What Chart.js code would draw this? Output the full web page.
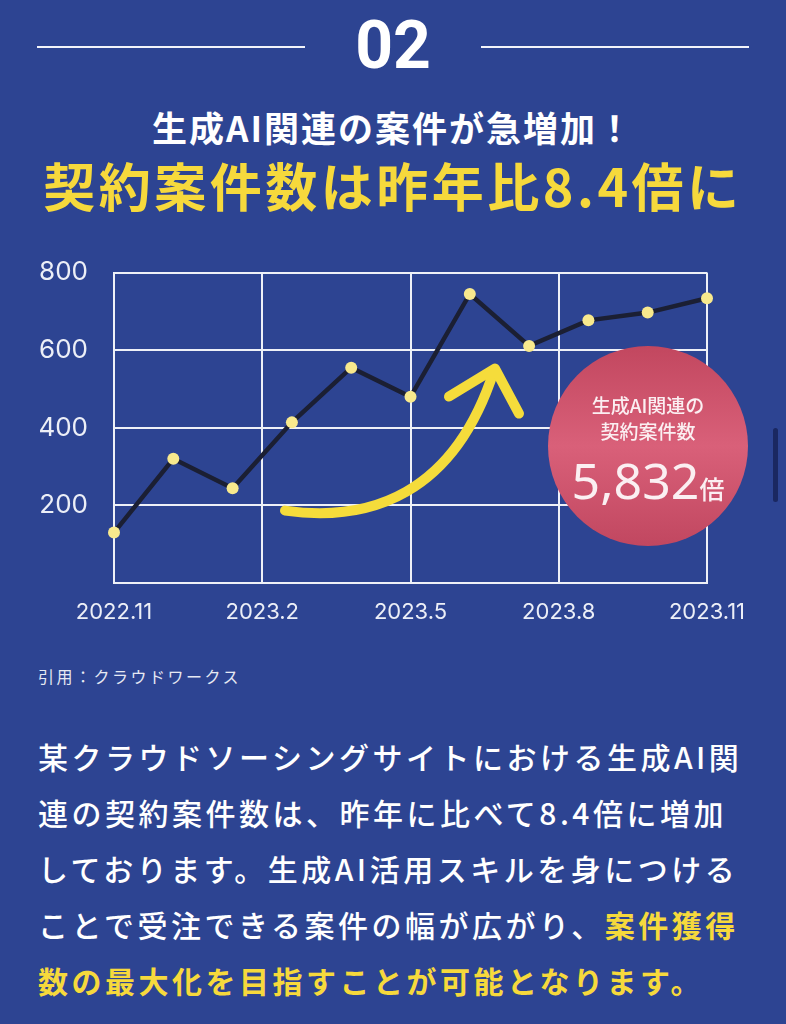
<!DOCTYPE html>
<html lang="ja">
<head>
<meta charset="utf-8">
<title>契約案件数は昨年比8.4倍に</title>
<script src="https://cdn.jsdelivr.net/npm/chart.js@4/dist/chart.umd.min.js"></script>
<style>
  html, body { margin: 0; padding: 0; }
  body {
    width: 786px; height: 1024px; overflow: hidden; position: relative;
    background: #2d4492; color: #fff;
    font-family: "Noto Sans CJK JP", "Noto Sans", sans-serif;
  }
  .rule { position: absolute; top: 46px; height: 2px; background: #f2f4fa; }
  #num {
    position: absolute; left: 0; width: 786px; top: 6px; text-align: center;
    font-family: Roboto, sans-serif; font-weight: 700; font-size: 66px; line-height: 80px;
  }
  #sub {
    position: absolute; left: 0; width: 786px; top: 104px; text-align: center;
    font-weight: 700; font-size: 35px; line-height: 46px; letter-spacing: 2px;
  }
  #main {
    position: absolute; left: 0; width: 786px; top: 150px; text-align: center;
    font-weight: 700; font-size: 52px; line-height: 70px; color: #f6d93c; letter-spacing: 3.5px;
  }
  #chartBox { position: absolute; left: 0; top: 231px; width: 786px; height: 409px; }
  #badge {
    position: absolute; left: 548px; top: 346px; width: 200px; height: 200px; border-radius: 50%;
    background: linear-gradient(180deg, #c2475f 0%, #d96079 50%, #c14760 100%);
    text-align: center; color: #fbeff2;
  }
  #badge .t { position: absolute; left: 0; width: 200px; top: 46px; font-weight: 500; font-size: 19px; line-height: 26px; }
  #badge .n { position: absolute; left: 0; width: 200px; top: 104px; font-family: "Noto Sans", sans-serif; font-size: 50px; line-height: 60px; }
  #badge .n span { font-family: "Noto Sans CJK JP", sans-serif; font-size: 25px; font-weight: 500; }
  #src { position: absolute; left: 38px; top: 664px; font-size: 16px; letter-spacing: 2.5px; color: #e6e9f3; }
  #para {
    position: absolute; left: 38px; top: 728px; width: 745px;
    font-size: 30px; line-height: 56px; letter-spacing: 3.5px; font-weight: 500;
  }
  #para b { color: #f6d93c; font-weight: 700; }
  #scroll { position: absolute; left: 773px; top: 428px; width: 5px; height: 74px; border-radius: 3px; background: #1a2861; }
</style>
</head>
<body>
<div class="rule" style="left:37px;width:268px"></div>
<div class="rule" style="left:481px;width:268px"></div>
<div id="num">02</div>
<div id="sub">生成AI関連の案件が急増加！</div>
<div id="main">契約案件数は昨年比8.4倍に</div>

<div id="chartBox"><canvas id="chart" width="786" height="409"></canvas></div>

<div id="badge">
  <div class="t">生成AI関連の<br>契約案件数</div>
  <div class="n">5,832<span>倍</span></div>
</div>

<div id="src">引用：クラウドワークス</div>

<div id="para">某クラウドソーシングサイトにおける生成AI関<br>連の契約案件数は、昨年に比べて8.4倍に増加<br>しております。生成AI活用スキルを身につける<br>ことで受注できる案件の幅が広がり、<b>案件獲得<br>数の最大化を目指すことが可能となります。</b></div>

<div id="scroll"></div>

<script>
// x axis tick labels (every 2.5 data steps)
const xLabels = ['2022.11', '2023.2', '2023.5', '2023.8', '2023.11'];
// contract counts
const counts = [130, 320, 244, 414, 555, 480, 745, 611, 677, 697, 734];
const yTicks = [200, 400, 600, 800];

const gridColor = '#eef1f8';
const tickColor = '#eceff7';

// yellow hand-drawn arrow
const arrowPlugin = {
  id: 'arrow',
  beforeDatasetsDraw(chart) {
    const ctx = chart.ctx;
    const a = chart.chartArea;
    const L = a.left, T = a.top;
    ctx.save();
    ctx.strokeStyle = '#f5dc3b';
    ctx.lineWidth = 10;
    ctx.lineCap = 'round';
    ctx.lineJoin = 'round';
    ctx.beginPath();
    ctx.moveTo(L + 171, T + 238);
    ctx.bezierCurveTo(L + 256, T + 250, L + 340, T + 222, L + 380, T + 98);
    ctx.stroke();
    ctx.beginPath();
    ctx.moveTo(L + 335, T + 124);
    ctx.lineTo(L + 381, T + 96);
    ctx.lineTo(L + 405, T + 141);
    ctx.stroke();
    ctx.restore();
  }
};

new Chart(document.getElementById('chart'), {
  type: 'line',
  data: {
    datasets: [{
      data: counts.map((v, i) => ({ x: i, y: v })),
      borderColor: '#1b1f33',
      borderWidth: 4.5,
      pointRadius: 6,
      pointHoverRadius: 6,
      pointBackgroundColor: '#f8e98d',
      pointBorderWidth: 0,
      tension: 0,
      clip: false
    }]
  },
  options: {
    responsive: false,
    animation: false,
    layout: { padding: { top: 25, right: 79, left: 0, bottom: 0 } },
    plugins: { legend: { display: false }, tooltip: { enabled: false } },
    scales: {
      x: {
        type: 'linear',
        min: 0,
        max: counts.length - 1,
        afterBuildTicks: s => { s.ticks = xLabels.map((_, i) => ({ value: i * (counts.length - 1) / (xLabels.length - 1) })); },
        afterFit: s => { s.height = 57; },
        grid: { color: gridColor, lineWidth: 2, drawTicks: false },
        border: { color: gridColor, width: 2 },
        ticks: {
          autoSkip: false, maxRotation: 0, padding: 16, color: tickColor,
          font: { family: 'Inter, Roboto, sans-serif', size: 22 },
          callback: v => xLabels[Math.round(v * (xLabels.length - 1) / (counts.length - 1))]
        }
      },
      y: {
        min: 0,
        max: 800,
        afterBuildTicks: s => { s.ticks = [0].concat(yTicks).map(v => ({ value: v })); },
        afterFit: s => { s.width = 114; },
        grid: { color: gridColor, lineWidth: 2, drawTicks: false },
        border: { color: gridColor, width: 2 },
        ticks: {
          padding: 26, color: tickColor,
          font: { family: 'Inter, Roboto, sans-serif', size: 26 },
          callback: v => (v === 0 ? '' : v)
        }
      }
    }
  },
  plugins: [arrowPlugin]
});
</script>
</body>
</html>
